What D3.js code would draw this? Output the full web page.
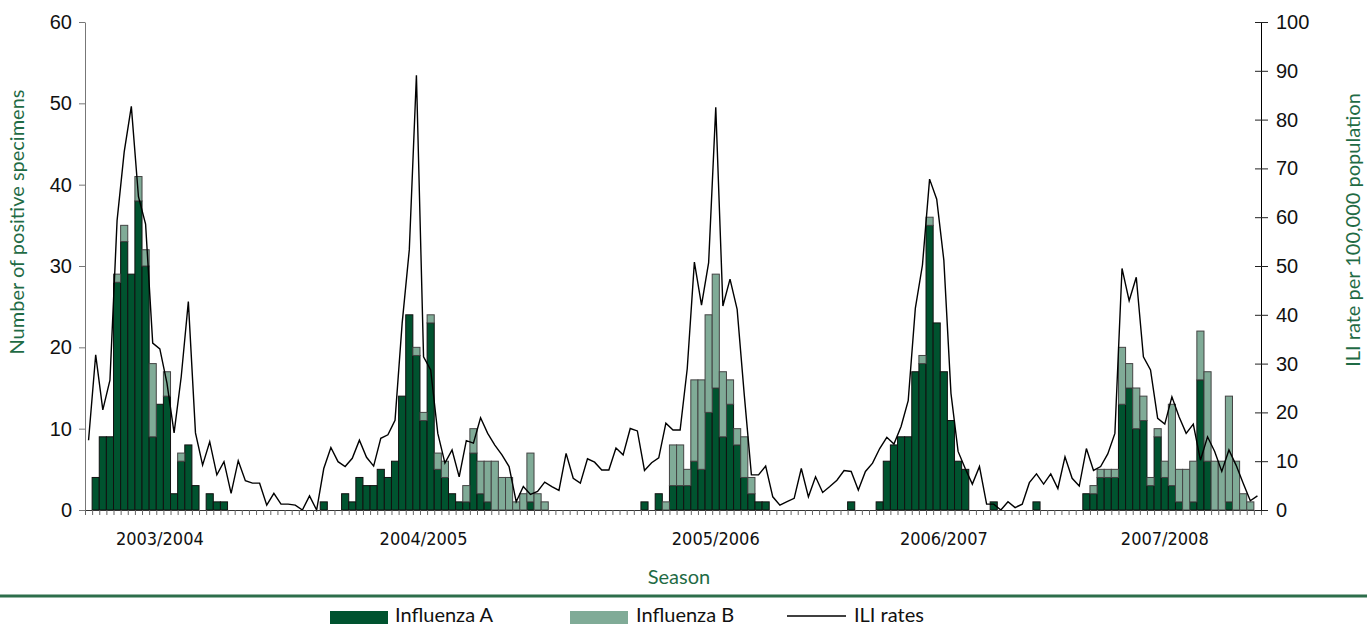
<!DOCTYPE html>
<html>
<head>
<meta charset="utf-8">
<script src="https://cdn.jsdelivr.net/npm/d3@7"></script>
<style>
  body { margin: 0; background: #fff; }
  svg { display: block; font-family: Lato, "Open Sans", sans-serif; }
</style>
</head>
<body>
<div class="graph"></div>
<script>
// weekly surveillance data, 5 seasons x 33 weeks
var fluA = [0,4,9,9,28,33,29,38,30,9,13,14,2,6,8,3,0,2,1,1,
  0,0,0,0,0,0,0,0,0,0,0,0,0,1,0,0,2,1,4,3,
  3,5,4,6,14,24,19,11,23,5,4,2,1,1,7,2,1,0,0,0,
  0,0,1,0,0,0,0,0,0,0,0,0,0,0,0,0,0,0,1,0,
  2,0,3,3,3,6,5,12,15,9,13,8,4,2,1,1,0,0,0,0,
  0,0,0,0,0,0,0,1,0,0,0,1,6,8,9,9,17,18,35,23,
  17,11,6,5,0,0,0,1,0,0,0,0,0,1,0,0,0,0,0,0,
  2,2,4,4,4,13,15,10,11,3,9,4,3,1,0,1,16,6,0,0,
  1,0,0,0,0];

var fluB = [0,0,0,0,1,2,0,3,2,9,0,3,0,1,0,0,0,0,0,0,
  0,0,0,0,0,0,0,0,0,0,0,0,0,0,0,0,0,0,0,0,
  0,0,0,0,0,0,1,1,1,2,2,0,0,2,3,4,5,6,4,4,
  1,2,6,2,1,0,0,0,0,0,0,0,0,0,0,0,0,0,0,0,
  0,1,5,5,2,10,11,12,14,8,3,2,5,2,0,0,0,0,0,0,
  0,0,0,0,0,0,0,0,0,0,0,0,0,0,0,0,0,1,1,0,
  0,0,0,0,0,0,0,0,0,0,0,0,0,0,0,0,0,0,0,0,
  0,1,1,1,1,7,3,5,3,1,1,2,10,4,5,5,6,11,6,6,
  13,6,2,1,0];

var iliRate = [14.3,31.8,20.5,26.6,59.3,73.4,82.7,64.2,58.6,34.2,33.0,26.0,15.8,27.3,42.7,15.8,9.2,14.0,7.2,9.9,
  3.4,10.1,6.0,5.5,5.5,1.0,3.4,1.2,1.2,1.0,0,2.9,0,8.5,12.8,9.9,8.9,10.6,14.3,10.8,
  9.0,14.7,15.4,18.4,38.3,53.3,89.1,31.4,28.7,15.7,9.6,12.3,6.8,14.2,13.7,18.9,15.7,13.3,11.3,8.9,
  1.7,4.8,3.2,3.8,5.7,4.8,4.0,11.6,6.5,5.5,10.5,9.8,8.2,8.2,12.7,11.3,16.7,16.2,8.1,9.7,
  10.7,17.8,16.4,16.4,29.0,50.8,42.0,50.7,82.5,41.8,47.3,41.1,23.6,7.2,7.2,9.0,2.7,1.0,1.7,2.4,
  8.5,2.7,6.8,3.6,4.8,6.1,8.1,7.9,4.1,7.9,9.6,12.6,14.9,13.5,17.1,22.4,41.3,50.2,67.8,63.7,
  51.2,23.9,12.0,8.5,5.3,8.9,1.2,1.2,0,1.7,0.5,1.2,5.6,7.4,5.3,7.4,4.4,10.9,6.5,4.9,
  12.6,8.1,8.9,11.5,15.7,49.5,42.9,47.7,31.4,28.7,18.8,17.6,23.2,19.1,15.7,17.6,10.2,15.0,12.0,7.9,
  12.3,9.2,5.5,1.9,2.9];

var seasons = ['2003/2004', '2004/2005', '2005/2006', '2006/2007', '2007/2008'];
var seasonWeek = [10, 47, 88, 120, 151];

var countTicks = [0, 10, 20, 30, 40, 50, 60];
var rateTicks = [0, 10, 20, 30, 40, 50, 60, 70, 80, 90, 100];

(function () {
  var width = 1367, height = 624;
  var plotLeft = 85, plotRight = 1261, plotTop = 22, plotBottom = 510;
  var darkGreen = '#00532f', lightGreen = '#80ab97', titleGreen = '#1f6b45';

  var weeks = d3.range(fluA.length);

  var x = d3.scaleBand().domain(weeks).range([plotLeft, plotRight]).paddingInner(0);
  var xLin = d3.scaleLinear().domain([0, weeks.length]).range([plotLeft, plotRight]);
  var y = d3.scaleLinear().domain([0, 60]).range([plotBottom, plotTop]);
  var yRate = d3.scaleLinear().domain([0, 100]).range([plotBottom, plotTop]);

  var svg = d3.select('.graph').append('svg')
      .attr('width', width)
      .attr('height', height);

  // bars: influenza A at the bottom, B stacked on top
  var bars = svg.append('g');
  bars.selectAll('rect.a')
    .data(weeks.filter(function (i) { return fluA[i] > 0; }))
    .enter().append('rect')
      .attr('class', 'a')
      .attr('x', function (i) { return x(i); })
      .attr('width', x.bandwidth())
      .attr('y', function (i) { return y(fluA[i]); })
      .attr('height', function (i) { return y(0) - y(fluA[i]); })
      .style('fill', darkGreen)
      .style('stroke', '#111')
      .style('stroke-width', 1);

  bars.selectAll('rect.b')
    .data(weeks.filter(function (i) { return fluB[i] > 0; }))
    .enter().append('rect')
      .attr('class', 'b')
      .attr('x', function (i) { return x(i); })
      .attr('width', x.bandwidth())
      .attr('y', function (i) { return y(fluA[i] + fluB[i]); })
      .attr('height', function (i) { return y(fluA[i]) - y(fluA[i] + fluB[i]); })
      .style('fill', lightGreen)
      .style('stroke', '#444')
      .style('stroke-width', 1);

  // ILI line
  var line = d3.line()
    .x(function (i) { return x(i) + x.bandwidth() / 2; })
    .y(function (i) { return yRate(iliRate[i]); });

  svg.append('path')
    .datum(weeks)
    .attr('d', line)
    .style('fill', 'none')
    .style('stroke', '#000')
    .style('stroke-width', 1.4);

  // x axis with a tick between every week
  var xAxis = svg.append('g')
    .attr('transform', 'translate(0,' + plotBottom + ')')
    .call(d3.axisBottom(xLin).tickValues(d3.range(weeks.length + 1)).tickSize(5).tickSizeOuter(0).tickFormat(''));
  xAxis.select('.domain').attr('stroke', '#333');
  xAxis.selectAll('.tick line').attr('stroke', '#666');

  // left axis
  var yAxis = svg.append('g')
    .attr('transform', 'translate(' + plotLeft + ',0)')
    .call(d3.axisLeft(y).tickValues(countTicks).tickSize(6).tickSizeOuter(0).tickPadding(7));
  yAxis.select('.domain').attr('stroke', '#777');
  yAxis.selectAll('.tick line').attr('stroke', '#777');
  yAxis.selectAll('text').style('font-size', '20px').attr('fill', '#111');

  // right axis, ticks crossing the line
  var rAxis = svg.append('g')
    .attr('transform', 'translate(' + plotRight + ',0)')
    .call(d3.axisRight(yRate).tickValues(rateTicks).tickSize(7).tickSizeOuter(0).tickPadding(8));
  rAxis.selectAll('.tick line').attr('x1', -6).attr('stroke', '#222');
  rAxis.select('.domain').attr('stroke', '#000');
  rAxis.selectAll('text').style('font-size', '20px').attr('fill', '#111');

  // season labels
  svg.selectAll('text.season')
    .data(seasons)
    .enter().append('text')
      .attr('class', 'season')
      .attr('x', function (d, i) { return x(seasonWeek[i]) + x.bandwidth() / 2; })
      .attr('y', 545)
      .attr('text-anchor', 'middle')
      .style('font-family', '"DejaVu Sans Condensed", "Liberation Sans Narrow", sans-serif')
      .style('font-stretch', 'condensed')
      .style('font-size', '18px')
      .style('fill', '#111')
      .text(function (d) { return d; });

  // axis titles
  svg.append('text')
    .attr('transform', 'translate(24,222) rotate(-90)')
    .attr('text-anchor', 'middle')
    .style('font-size', '20px')
    .style('fill', titleGreen)
    .text('Number of positive specimens');

  svg.append('text')
    .attr('transform', 'translate(1360,230) rotate(-90)')
    .attr('text-anchor', 'middle')
    .style('font-size', '20px')
    .style('fill', titleGreen)
    .text('ILI rate per 100,000 population');

  svg.append('text')
    .attr('x', 679)
    .attr('y', 584)
    .attr('text-anchor', 'middle')
    .style('font-size', '20px')
    .style('fill', titleGreen)
    .text('Season');

  svg.append('line')
    .attr('x1', 0).attr('x2', width)
    .attr('y1', 596).attr('y2', 596)
    .style('stroke', '#2d6e4b')
    .style('stroke-width', 3);

  // legend
  var legend = svg.append('g').style('font-size', '20px').style('fill', '#111');
  legend.append('rect').attr('x', 330).attr('y', 611).attr('width', 58).attr('height', 14).style('fill', darkGreen);
  legend.append('text').attr('x', 395).attr('y', 622).text('Influenza A');
  legend.append('rect').attr('x', 570).attr('y', 611).attr('width', 58).attr('height', 14).style('fill', lightGreen);
  legend.append('text').attr('x', 636).attr('y', 622).text('Influenza B');
  legend.append('line').attr('x1', 787).attr('x2', 846).attr('y1', 616).attr('y2', 616).style('stroke', '#000').style('stroke-width', 1.6);
  legend.append('text').attr('x', 854).attr('y', 622).text('ILI rates');
})();
</script>
</body>
</html>
